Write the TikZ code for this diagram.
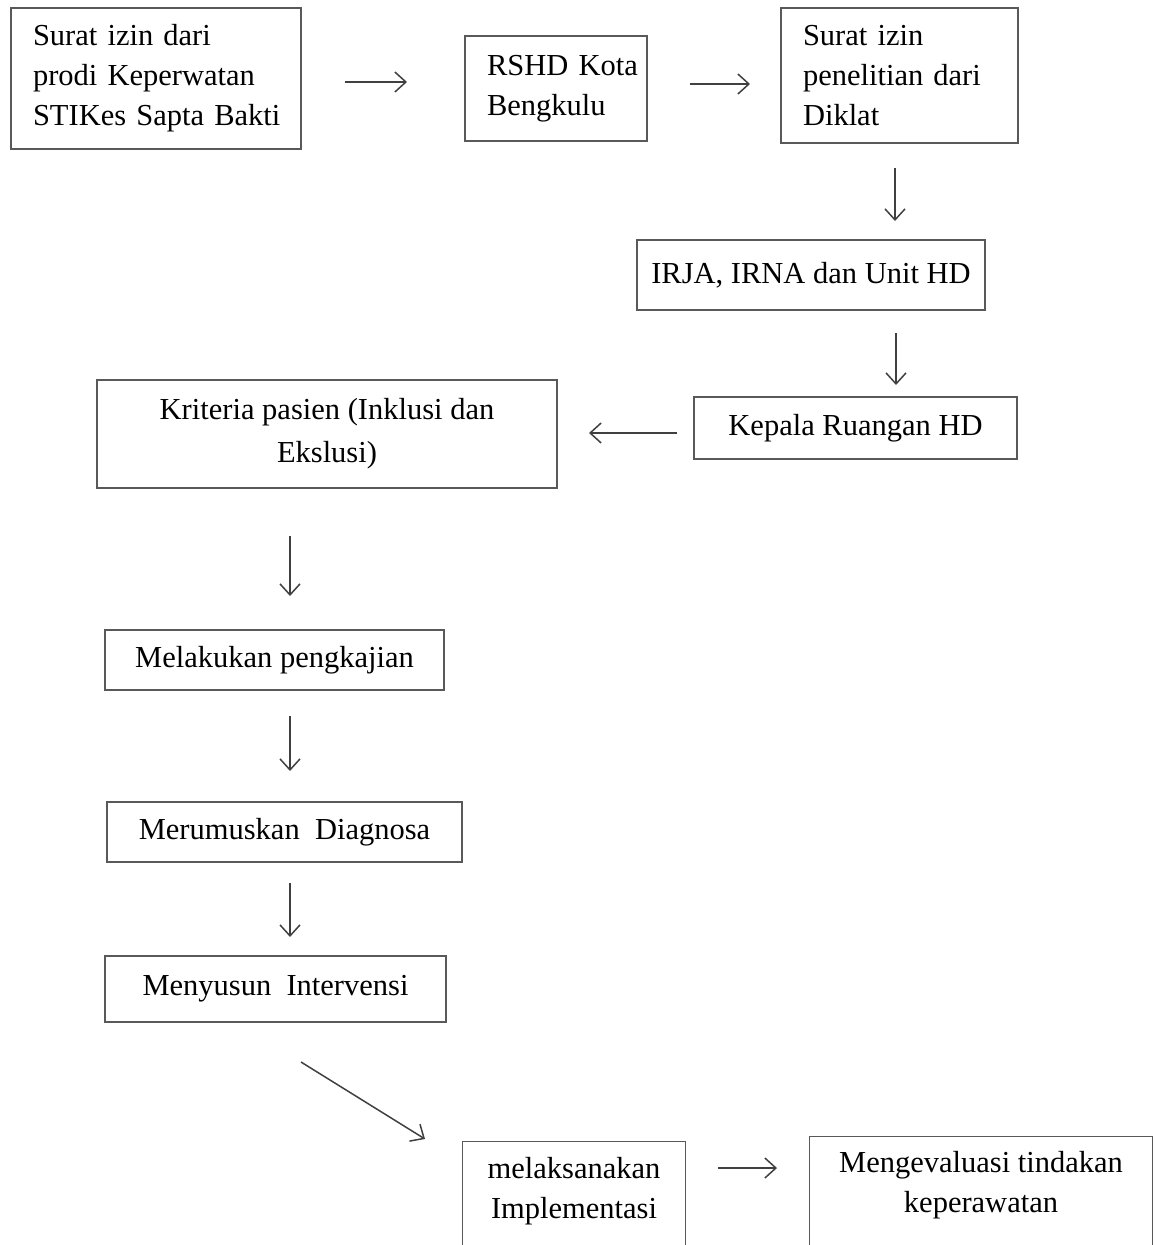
\documentclass[tikz,border=0pt]{standalone}
\usepackage{fontspec}
\setmainfont{Liberation Serif}
\usetikzlibrary{arrows.meta}

\begin{document}
\begin{tikzpicture}[x=1pt,y=-1pt,
  box/.style={draw=black!65,line width=1.1pt,inner sep=0pt,font=\fontsize{30.5}{40}\selectfont},
  txt/.style={inner sep=0pt,font=\fontsize{30.5}{40}\selectfont,align=center},
  arr/.style={draw=black!75,line width=1.5pt,-{Straight Barb[length=11pt,width=20pt]}},
  side/.style={draw=black!65,line width=1.1pt}]
\useasboundingbox (0,0) rectangle (1155,1245);
\clip (0,0) rectangle (1155,1245);

% boxes
\node[box,minimum width=290pt,minimum height=141pt,text width=246pt,align=left] (izin) at (156,78.5)
  {\mbox{Surat izin dari}\\\mbox{prodi Keperwatan}\\\mbox{STIKes Sapta Bakti}};
\node[box,minimum width=182pt,minimum height=105pt,text width=138pt,align=left] (rshd) at (556,88.5)
  {\mbox{RSHD Kota}\\\mbox{Bengkulu}};
\node[box,minimum width=237pt,minimum height=135pt,text width=193pt,align=left] (diklat) at (899.5,75.5)
  {\mbox{Surat izin}\\\mbox{penelitian dari}\\\mbox{Diklat}};
\node[box,minimum width=348pt,minimum height=70pt] (irja) at (811,275) {IRJA, IRNA dan Unit HD};
\node[box,minimum width=323pt,minimum height=62pt] (kepala) at (855.5,428) {Kepala Ruangan HD};
\node[box,minimum width=460pt,minimum height=108pt,align=center] (kriteria) at (327,434)
  {Kriteria pasien (Inklusi dan\\[3pt]Ekslusi)};
\node[box,minimum width=339pt,minimum height=60pt] (kaji) at (274.5,660) {Melakukan pengkajian};
\node[box,minimum width=355pt,minimum height=60pt] (diag) at (284.5,832) {Merumuskan\ \ Diagnosa};
\node[box,minimum width=341pt,minimum height=66pt] (inter) at (275.5,989) {Menyusun\ \ Intervensi};
\node[txt,minimum width=222pt,minimum height=98pt] (impl) at (574,1191) {melaksanakan\\Implementasi};
\node[txt,minimum width=343pt,minimum height=97pt] (eval) at (981,1185.5) {Mengevaluasi tindakan\\keperawatan};

% open boxes at the bottom
\draw[side] ([yshift=-30pt]impl.south west) |- (impl.north east) -- ([yshift=-30pt]impl.south east);
\draw[side] ([yshift=-30pt]eval.south west) |- (eval.north east) -- ([yshift=-30pt]eval.south east);

% arrow ends
\coordinate (a1) at (345,82);   \coordinate (b1) at (407,82);
\coordinate (a2) at (690,84);   \coordinate (b2) at (750,84);
\coordinate (a3) at (895,168);  \coordinate (b3) at (895,221);
\coordinate (a4) at (896,333);  \coordinate (b4) at (896,385);
\coordinate (a5) at (677,433);  \coordinate (b5) at (589,433);
\coordinate (a6) at (290,536);  \coordinate (b6) at (290,596);
\coordinate (a7) at (290,716);  \coordinate (b7) at (290,771);
\coordinate (a8) at (290,883);  \coordinate (b8) at (290,937);
\coordinate (a9) at (301,1062); \coordinate (b9) at (425,1139);
\coordinate (a10) at (718,1168); \coordinate (b10) at (777,1168);

\foreach \i in {1,...,10}
  \draw[arr] (a\i) -- (b\i);
\end{tikzpicture}
\end{document}
